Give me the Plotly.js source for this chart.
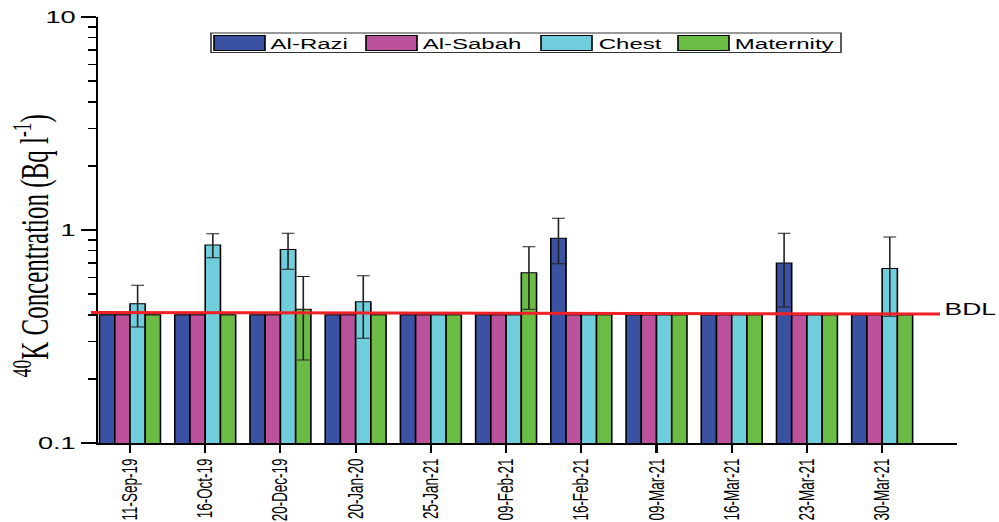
<!DOCTYPE html>
<html>
<head>
<meta charset="utf-8">
<script src="https://cdn.plot.ly/plotly-3.0.1.min.js"></script>
<style>
  html, body { margin: 0; padding: 0; background: #fff; overflow: hidden; }
  #chart { width: 624px; height: 522px; transform-origin: 0 0; }
</style>
</head>
<body>
<div id="chart"></div>
<script>
// Sampling dates (x categories)
const dates = ['11-Sep-19', '16-Oct-19', '20-Dec-19', '20-Jan-20', '25-Jan-21', '09-Feb-21',
               '16-Feb-21', '09-Mar-21', '16-Mar-21', '23-Mar-21', '30-Mar-21'];

// Series names and colours
const seriesNames = ['Al-Razi', 'Al-Sabah', 'Chest', 'Maternity'];
const seriesColors = ['#3b52a3', '#bb529b', '#6fcddc', '#6bbc45'];

// 40K concentration (Bq/l); samples below detection limit are plotted at 0.4
const alRazi    = [0.40, 0.40, 0.40, 0.40, 0.40, 0.40, 0.915, 0.40, 0.40, 0.70, 0.40];
const alSabah   = [0.40, 0.40, 0.40, 0.40, 0.40, 0.40, 0.40, 0.40, 0.40, 0.40, 0.40];
const chest     = [0.45, 0.85, 0.81, 0.46, 0.40, 0.40, 0.40, 0.40, 0.40, 0.40, 0.66];
const maternity = [0.40, 0.40, 0.425, 0.40, 0.40, 0.63, 0.40, 0.40, 0.40, 0.40, 0.40];

// Uncertainties (null = no error bar)
const alRaziErr    = [null, null, null, null, null, null, 0.22, null, null, 0.265, null];
const alSabahErr   = [null, null, null, null, null, null, null, null, null, null, null];
const chestErr     = [0.10, 0.11, 0.155, 0.15, null, null, null, null, null, null, 0.266];
const maternityErr = [null, null, 0.18, null, null, 0.205, null, null, null, null, null];

// Below detection limit level (start, end of the drawn line)
const bdlLevel = [0.41, 0.403];
const bdlLabel = 'BDL';

const yTitle = '<sup>40</sup>K Concentration (Bq l<sup>-1</sup>)';
const yTickVals = [0.1, 1, 10];
const yTickText = ['0.1', '1', '10'];
const yMinorVals = [0.2, 0.3, 0.4, 0.5, 0.6, 0.7, 0.8, 0.9, 2, 3, 4, 5, 6, 7, 8, 9];

// ---- geometry: the figure is laid out narrow and stretched horizontally ----
const FIG_W = 999, FIG_H = 522;
const STRETCH = 1.6;
const W = Math.round(FIG_W / STRETCH);
const scale = FIG_W / W;
const el = document.getElementById('chart');
el.style.width = W + 'px';
el.style.transform = 'scaleX(' + scale + ')';

const M = { l: 61, r: 26, t: 17, b: 79 };
const plotW = W - M.l - M.r;
const plotH = FIG_H - M.t - M.b;
// convert full-width pixel positions to paper coordinates
const xp = px => (px / scale - M.l) / plotW;
const yp = py => (FIG_H - M.b - py) / plotH;

const sans = 'Liberation Sans, Arial, sans-serif';
const serif = 'Liberation Serif, Times New Roman, serif';

const values = [alRazi, alSabah, chest, maternity];
const errors = [alRaziErr, alSabahErr, chestErr, maternityErr];

const traces = seriesNames.map((name, i) => ({
  type: 'bar',
  name: name,
  x: dates.map((d, k) => k),
  y: values[i],
  marker: { color: seriesColors[i], line: { color: '#000', width: 1 } },
  error_y: {
    type: 'data', array: errors[i], visible: true,
    color: '#222', thickness: 1, width: 4
  },
  showlegend: false,
  hoverinfo: 'skip'
}));

// Legend drawn as boxed swatches with labels
const legendBox = { x0: 211, x1: 841, y0: 33, y1: 52.5 };
const swatchX = [214, 366, 541, 678];
const swatchW = 51;
const shapes = [];
const annotations = [];
shapes.push({
  type: 'rect', xref: 'paper', yref: 'paper',
  x0: xp(legendBox.x0), x1: xp(legendBox.x1), y0: yp(legendBox.y1), y1: yp(legendBox.y0),
  line: { color: '#333', width: 1 }, fillcolor: 'rgba(0,0,0,0)', layer: 'above'
});
seriesNames.forEach((name, i) => {
  shapes.push({
    type: 'rect', xref: 'paper', yref: 'paper',
    x0: xp(swatchX[i]), x1: xp(swatchX[i] + swatchW), y0: yp(50.5), y1: yp(35.5),
    line: { color: '#000', width: 1 }, fillcolor: seriesColors[i], layer: 'above'
  });
  annotations.push({
    xref: 'paper', yref: 'paper', x: xp(swatchX[i] + swatchW + 3), y: yp(43),
    xanchor: 'left', yanchor: 'middle', showarrow: false, text: name,
    font: { family: sans, size: 15, color: '#000' }
  });
});

// Detection-limit line and its label
shapes.push({
  type: 'line', xref: 'paper', yref: 'y',
  x0: xp(91), x1: xp(940), y0: bdlLevel[0], y1: bdlLevel[1],
  line: { color: '#ee2127', width: 3 }, layer: 'above'
});
annotations.push({
  xref: 'paper', yref: 'y', x: xp(942), y: Math.log10(bdlLevel[1]),
  xanchor: 'left', yanchor: 'bottom', yshift: -6, showarrow: false, text: bdlLabel,
  font: { family: sans, size: 16.5, color: '#000' }
});

// Y-axis title, rotated
annotations.push({
  xref: 'paper', yref: 'paper', x: xp(31), y: yp(246),
  xanchor: 'center', yanchor: 'middle', textangle: -90, showarrow: false,
  text: yTitle, font: { family: serif, size: 25, color: '#000' }
});

const layout = {
  width: W, height: FIG_H,
  margin: { l: M.l, r: M.r, t: M.t, b: M.b, autoexpand: false },
  paper_bgcolor: '#fff', plot_bgcolor: '#fff',
  barmode: 'group', bargap: 0.19, bargroupgap: 0,
  showlegend: false, hovermode: false,
  xaxis: {
    range: [-0.43, 11.0],
    tickmode: 'array', tickvals: dates.map((d, k) => k), ticktext: dates,
    tickangle: -90, ticks: 'outside', ticklen: 8, tickwidth: 1.3, tickcolor: '#000',
    showline: true, linecolor: '#000', linewidth: 2, mirror: false,
    showgrid: false, zeroline: false,
    tickfont: { family: sans, size: 13.5, color: '#000' }
  },
  yaxis: {
    type: 'log', range: [-1, 1],
    tickmode: 'array', tickvals: yTickVals, ticktext: yTickText,
    ticks: 'outside', ticklen: 9, tickwidth: 1.5, tickcolor: '#000',
    minor: { tickmode: 'array', tickvals: yMinorVals, ticks: 'outside', ticklen: 5, tickwidth: 1.5, tickcolor: '#000', showgrid: false },
    showline: true, linecolor: '#000', linewidth: 1.3,
    showgrid: false, zeroline: false,
    tickfont: { family: sans, size: 17, color: '#000' }
  },
  shapes: shapes,
  annotations: annotations
};

Plotly.newPlot('chart', traces, layout, { displayModeBar: false, staticPlot: true });
</script>
</body>
</html>
